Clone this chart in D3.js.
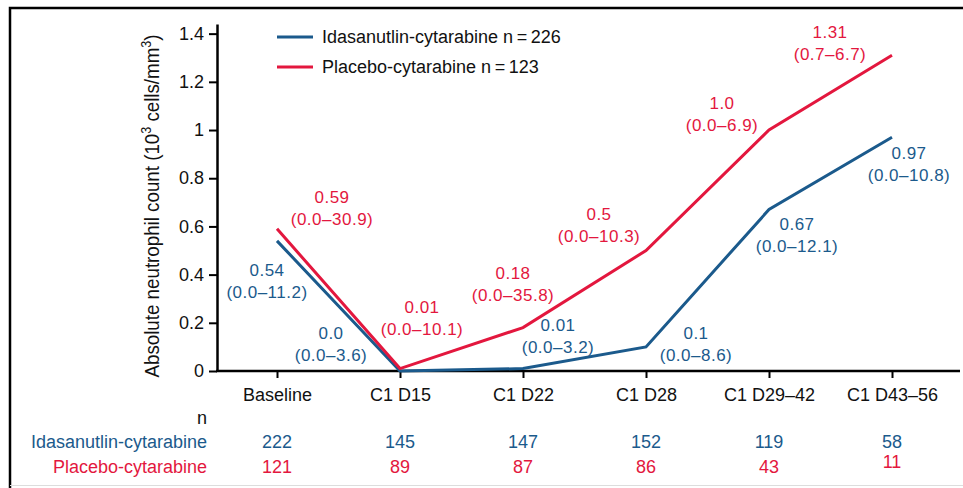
<!DOCTYPE html>
<html>
<head>
<meta charset="utf-8">
<script src="https://cdn.jsdelivr.net/npm/d3@7"></script>
<style>
  body { margin: 0; background: #fff; }
  svg { font-family: "Liberation Sans", Arial, Helvetica, sans-serif; }
</style>
</head>
<body>
<svg id="chart" width="963" height="488"></svg>
<script>
var categories = ["Baseline", "C1 D15", "C1 D22", "C1 D28", "C1 D29\u201342", "C1 D43\u201356"];
var yTicks = [0, 0.2, 0.4, 0.6, 0.8, 1, 1.2, 1.4];

var idaMedian = ["0.54", "0.0", "0.01", "0.1", "0.67", "0.97"];
var idaRange = ["0.0\u201311.2", "0.0\u20133.6", "0.0\u20133.2", "0.0\u20138.6", "0.0\u201312.1", "0.0\u201310.8"];
var idaN = [222, 145, 147, 152, 119, 58];

var pboMedian = ["0.59", "0.01", "0.18", "0.5", "1.0", "1.31"];
var pboRange = ["0.0\u201330.9", "0.0\u201310.1", "0.0\u201335.8", "0.0\u201310.3", "0.0\u20136.9", "0.7\u20136.7"];
var pboN = [121, 89, 87, 86, 43, 11];

var legendLabels = ["Idasanutlin-cytarabine n\u2009=\u2009226", "Placebo-cytarabine n\u2009=\u2009123"];
var rowLabels = ["Idasanutlin-cytarabine", "Placebo-cytarabine"];

// label offsets from each point (layout only)
var idaOffsets = [[-10, 29], [-69, -38], [35, -44], [50, -14], [28, 14], [17, 16]];
var pboOffsets = [[55, -32], [22, -62], [-10, -55], [-47, -37], [-47, -27], [-62, -23]];

var blue = "#1b5a8c";
var red = "#e3173e";

var svg = d3.select("#chart");

// frame
svg.append("path")
  .attr("d", "M10,488 V8 H963")
  .attr("fill", "none")
  .attr("stroke", "#000")
  .attr("stroke-width", 2.5);
svg.append("line")
  .attr("x1", 10).attr("x2", 963)
  .attr("y1", 485.5).attr("y2", 485.5)
  .attr("stroke", "#ddd");

var x = d3.scalePoint()
  .domain(categories)
  .range([277, 892]);

var y = d3.scaleLinear()
  .domain([0, 1.44])
  .range([371, 24]);

// y axis
var yAxis = svg.append("g")
  .attr("transform", "translate(217,0)")
  .call(d3.axisLeft(y).tickValues(yTicks).tickSize(8).tickSizeOuter(0)
    .tickFormat(d => String(+d.toFixed(1))));
yAxis.select(".domain").attr("stroke-width", 2.5);
yAxis.selectAll(".tick line").attr("stroke-width", 2);
yAxis.selectAll(".tick text")
  .attr("x", -13)
  .style("font-size", "18px")
  .style("font-family", "Liberation Sans, Arial, sans-serif")
  .attr("fill", "#111");

// x axis
var xAxis = svg.append("g")
  .attr("transform", "translate(0,371)")
  .call(d3.axisBottom(x).tickSize(7).tickSizeOuter(0));
xAxis.select(".domain").remove();
xAxis.selectAll(".tick line").attr("stroke-width", 2);
xAxis.selectAll(".tick text")
  .attr("y", 17)
  .style("font-size", "18px")
  .style("font-family", "Liberation Sans, Arial, sans-serif")
  .attr("fill", "#111");
svg.append("line")
  .attr("x1", 216).attr("x2", 960)
  .attr("y1", 371).attr("y2", 371)
  .attr("stroke", "#000")
  .attr("stroke-width", 2.5);

// y axis title (condensed look)
var title = svg.append("text")
  .attr("transform", "translate(159,206) rotate(-90)")
  .attr("text-anchor", "middle")
  .attr("textLength", 343)
  .attr("lengthAdjust", "spacingAndGlyphs")
  .style("font-size", "21px")
  .attr("fill", "#111");
title.append("tspan").text("Absolute neutrophil count (10");
title.append("tspan").attr("baseline-shift", "super").style("font-size", "14px").text("3");
title.append("tspan").text(" cells/mm");
title.append("tspan").attr("baseline-shift", "super").style("font-size", "14px").text("3");
title.append("tspan").text(")");

// lines
var line = d3.line()
  .x((d, i) => x(categories[i]))
  .y(d => y(+d));

svg.append("path")
  .datum(idaMedian)
  .attr("d", line)
  .attr("fill", "none")
  .attr("stroke", blue)
  .attr("stroke-width", 3);

svg.append("path")
  .datum(pboMedian)
  .attr("d", line)
  .attr("fill", "none")
  .attr("stroke", red)
  .attr("stroke-width", 3);

// point labels
function drawLabels(medians, ranges, offsets, color) {
  var g = svg.append("g")
    .style("font-size", "17px")
    .style("letter-spacing", "0.5px")
    .attr("fill", color)
    .attr("text-anchor", "middle");
  medians.forEach(function (m, i) {
    var px = x(categories[i]) + offsets[i][0];
    var py = y(+m) + offsets[i][1];
    g.append("text").attr("x", px).attr("y", py).attr("dy", "0.36em").text(m);
    g.append("text").attr("x", px).attr("y", py + 22).attr("dy", "0.36em").text("(" + ranges[i] + ")");
  });
}
drawLabels(idaMedian, idaRange, idaOffsets, blue);
drawLabels(pboMedian, pboRange, pboOffsets, red);

// legend
var legend = svg.append("g").attr("transform", "translate(277,37)");
[blue, red].forEach(function (c, i) {
  var row = legend.append("g").attr("transform", "translate(0," + (i * 30) + ")");
  row.append("line")
    .attr("x1", 0).attr("x2", 36)
    .attr("stroke", c)
    .attr("stroke-width", 3);
  row.append("text")
    .attr("x", 45)
    .attr("dy", "0.36em")
    .style("font-size", "18px")
    .attr("fill", "#111")
    .text(legendLabels[i]);
});

// n table
svg.append("text")
  .attr("x", 207).attr("y", 418).attr("dy", "0.36em")
  .attr("text-anchor", "end")
  .style("font-size", "18px")
  .attr("fill", "#111")
  .text("n");

[[idaN, blue, 442], [pboN, red, 467]].forEach(function (r, k) {
  svg.append("text")
    .attr("x", 207).attr("y", r[2]).attr("dy", "0.36em")
    .attr("text-anchor", "end")
    .style("font-size", "18px")
    .attr("fill", r[1])
    .text(rowLabels[k]);
  svg.append("g").selectAll("text")
    .data(r[0])
    .join("text")
    .attr("x", (d, i) => x(categories[i]))
    .attr("y", (d, i) => r[2] - (k === 1 && i === r[0].length - 1 ? 5 : 0))
    .attr("dy", "0.36em")
    .attr("text-anchor", "middle")
    .style("font-size", "18px")
    .attr("fill", r[1])
    .text(d => d);
});
</script>
</body>
</html>
